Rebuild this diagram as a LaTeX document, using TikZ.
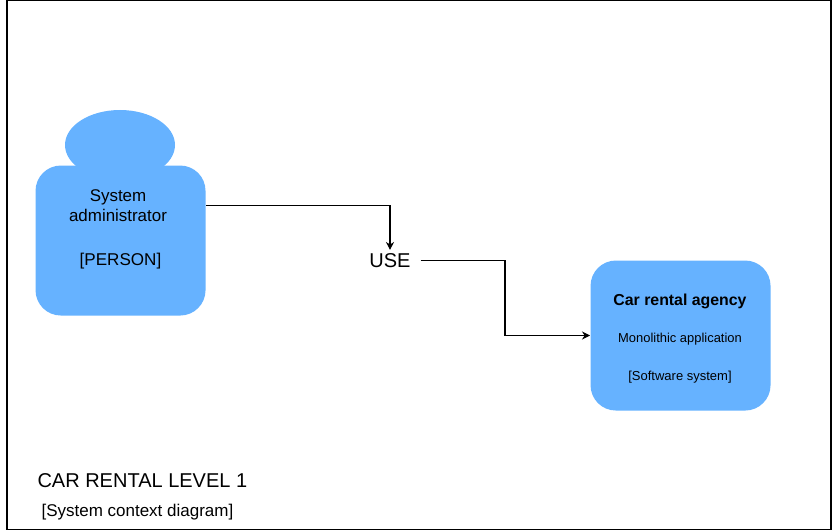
\documentclass[tikz,border=0pt]{standalone}
\usepackage{fontspec}
\setmainfont{Liberation Sans}
\usetikzlibrary{shapes.geometric,arrows.meta}
\definecolor{boxblue}{HTML}{66B2FF}

\begin{document}
\begin{tikzpicture}[x=0.75pt,y=-0.75pt,line width=0.8pt,>={Stealth[length=6pt,width=6pt]},
    blockbox/.style={rounded corners=19pt,fill=boxblue,inner sep=0pt,anchor=north west},
    label/.style={inner sep=0pt,align=center}]
  \useasboundingbox (0,0) rectangle (832,531);
  \draw (7,0.5) rectangle (831,529.5);
  \node[ellipse,fill=boxblue,inner sep=0pt,minimum width=82.5pt,minimum height=52.5pt] (head) at (120,145) {};
  \node[blockbox,minimum width=127.5pt,minimum height=112.5pt] (person) at (35,165) {};
  \node[label,font=\fontsize{12.7}{15}\selectfont] (persontext) at (118,205.5) {System\\administrator};
  \node[label,font=\fontsize{12.8}{15}\selectfont] (persontype) at (120.5,261.5) {[PERSON]};
  \node[label,font=\fontsize{15}{18}\selectfont,minimum width=45pt,minimum height=15pt] (use) at (390,260.5) {USE};
  \node[blockbox,minimum width=135pt,minimum height=112.5pt] (agency) at (590,260) {};
  \node[label,font=\fontsize{11.9}{13}\selectfont\bfseries] (agencyname) at (680,301.5) {Car rental agency};
  \node[label,font=\fontsize{9.7}{11}\selectfont] (agencydesc) at (680,339.5) {Monolithic application};
  \node[label,font=\fontsize{9.75}{11}\selectfont] (agencytype) at (680,377) {[Software system]};
  \node[label,anchor=west,font=\fontsize{15}{18}\selectfont] (title) at (37,481) {CAR RENTAL LEVEL 1};
  \node[label,anchor=west,font=\fontsize{12.75}{15}\selectfont] (subtitle) at (41,512) {[System context diagram]};
  \coordinate (usebend) at (505,335.5);
  \draw[->] (persontext -| person.east) -| (use.north);
  \draw[->] (use.east) -| (usebend) -- (agency.west |- usebend);
\end{tikzpicture}
\end{document}
